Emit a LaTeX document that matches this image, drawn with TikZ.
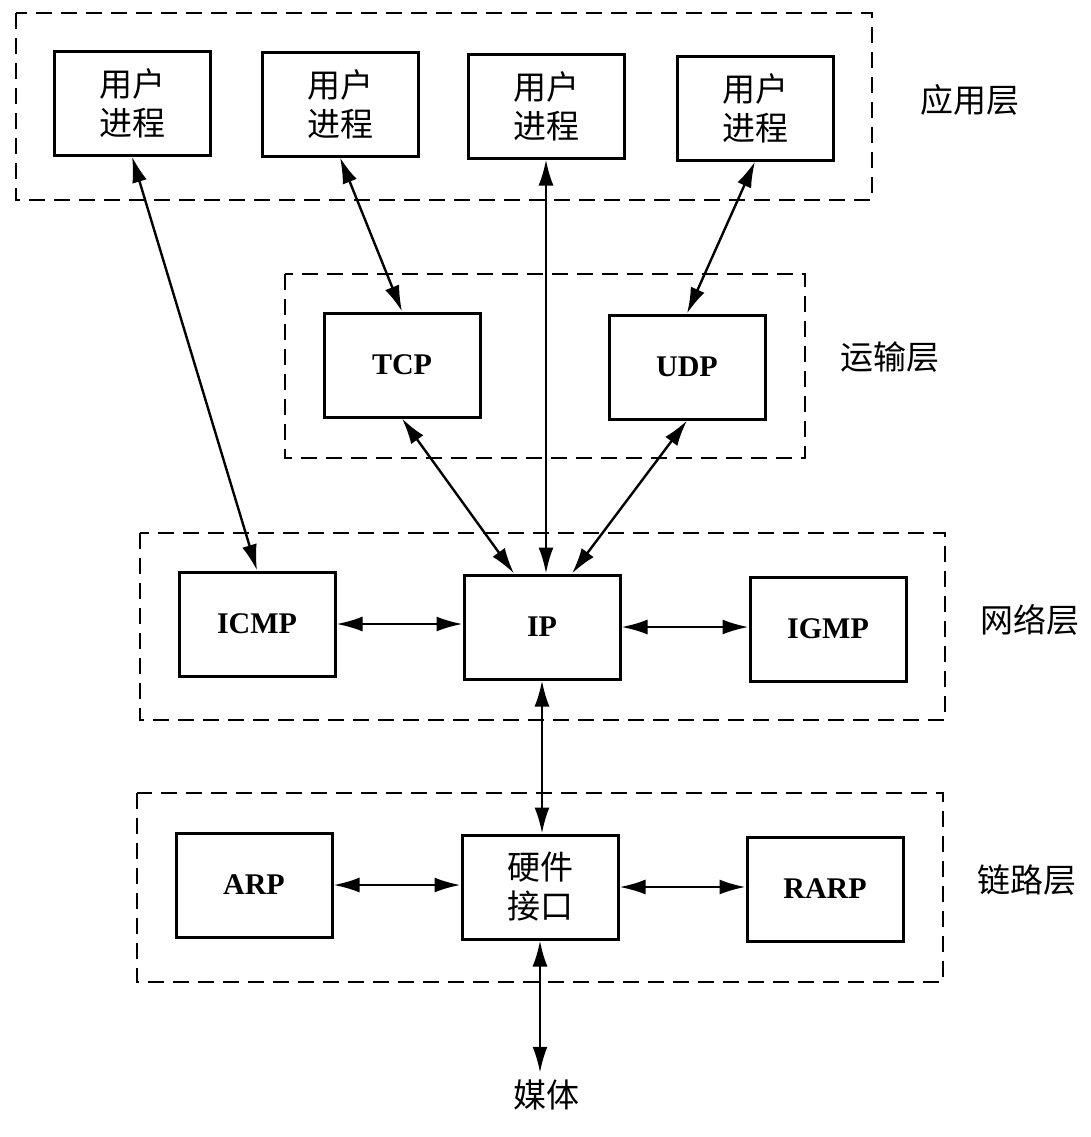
\documentclass[tikz,border=0pt]{standalone}
\usepackage{fontspec}
\setmainfont{Liberation Serif}
\newfontfamily\cjk{Noto Sans CJK SC}
\usetikzlibrary{arrows.meta}

\begin{document}
\begin{tikzpicture}[x=0.5pt,y=-0.5pt,
  box/.style={draw,line width=1.5pt,minimum width=78pt,minimum height=52pt,inner sep=0pt,align=center,font=\cjk\fontsize{16.5}{19.5}\selectfont},
  proto/.style={box,font=\bfseries\fontsize{15}{18}\selectfont},
  layer/.style={draw,line width=1.4pt,dash pattern=on 8pt off 4.5pt},
  lbl/.style={font=\cjk\fontsize{16.5}{19.5}\selectfont},
  link/.style={line width=1.2pt,{Latex[length=13pt,width=7.5pt]}-{Latex[length=13pt,width=7.5pt]}}]

\useasboundingbox (0,0) rectangle (1091,1137);

\draw[layer] (16,13) rectangle (872,200);
\draw[layer] (285,274) rectangle (805,458);
\draw[layer] (140,533) rectangle (945,720);
\draw[layer] (137,793) rectangle (943,982);

\node[box] (p1) at (132,103) {用户\\进程};
\node[box] (p2) at (340,104) {用户\\进程};
\node[box] (p3) at (546,106) {用户\\进程};
\node[box] (p4) at (755,108) {用户\\进程};
\node[lbl] (app) at (970,100) {应用层};

\node[proto] (tcp) at (402,365) {TCP};
\node[proto] (udp) at (687,367) {UDP};
\node[lbl] (trans) at (890,357) {运输层};

\node[proto] (icmp) at (257,624) {ICMP};
\node[proto] (ip) at (542,627) {IP};
\node[proto] (igmp) at (828,629) {IGMP};
\node[lbl] (net) at (1030,620) {网络层};

\node[proto] (arp) at (254,885) {ARP};
\node[box] (hw) at (540,887) {硬件\\接口};
\node[proto] (rarp) at (825,889) {RARP};
\node[lbl] (linklayer) at (1027,880) {链路层};

\node[lbl] (media) at (546,1095) {媒体};

\draw[link] (p1.south) -- (icmp.north);
\draw[link] (p2.south) -- (tcp.north);
\draw[link] (p3.south) -- (p3.south |- ip.north);
\draw[link] (p4.south) -- (udp.north);
\draw[link] (tcp.south) -- ([xshift=-14pt]ip.north);
\draw[link] (udp.south) -- ([xshift=15pt]ip.north);
\draw[link] (icmp.east) -- (icmp.east -| ip.west);
\draw[link] (ip.east) -- (ip.east -| igmp.west);
\draw[link] (ip.south) -- (ip.south |- hw.north);
\draw[link] (arp.east) -- (arp.east -| hw.west);
\draw[link] (hw.east) -- (hw.east -| rarp.west);
\draw[link] (hw.south) -- (hw.south |- media.north);
\end{tikzpicture}
\end{document}
